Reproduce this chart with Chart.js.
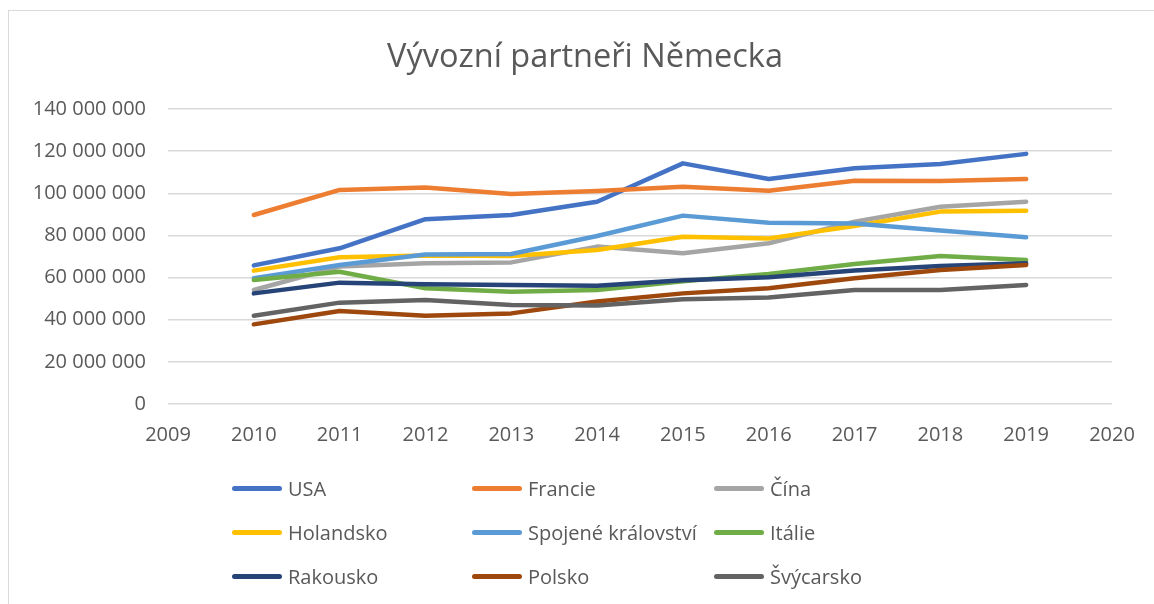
<!DOCTYPE html>
<html>
<head>
<meta charset="utf-8">
<title>Vývozní partneři Německa</title>
<script src="https://cdn.jsdelivr.net/npm/chart.js@4.4.1/dist/chart.umd.min.js"></script>
<style>
html,body{margin:0;padding:0;background:#fff;overflow:hidden}
#wrap{position:relative;width:1154px;height:604px}
#frame{position:absolute;left:8px;top:10px;width:1200px;height:700px;border-left:1px solid #d9d9d9;border-top:1px solid #d9d9d9}
#myChart{position:absolute;left:0;top:0}
#title{position:absolute;left:385px;width:400px;top:33px;text-align:center;white-space:nowrap;font-family:'Open Sans',sans-serif;font-size:32.5px;line-height:44px;color:#595959}
#legend{position:absolute;left:232px;top:466px;display:grid;grid-template-columns:240px 242px auto;grid-auto-rows:44px;font-family:'Open Sans',sans-serif;font-size:20px;color:#595959}
#legend div{display:flex;align-items:center;white-space:nowrap}
#legend span.ln{display:inline-block;width:50px;height:5px;border-radius:3px;margin-right:6px}
</style>
</head>
<body>
<div id="wrap">
<div id="frame"></div>
<canvas id="myChart" width="1154" height="604"></canvas>
<div id="title">Vývozní partneři Německa</div>
<div id="legend"></div>
</div>
<script>
// roky a hodnoty (v milionech)
var years = [2010, 2011, 2012, 2013, 2014, 2015, 2016, 2017, 2018, 2019];
var usa        = [65.8, 73.9, 87.7, 89.7, 96.0, 114.2, 106.8, 111.9, 113.9, 118.7];
var francie    = [89.7, 101.6, 102.8, 99.7, 101.1, 103.1, 101.2, 106.0, 105.8, 106.8];
var cina       = [54.1, 65.2, 66.8, 67.2, 74.7, 71.5, 76.3, 86.5, 93.6, 96.0];
var holandsko  = [63.3, 69.6, 70.5, 70.2, 73.1, 79.4, 78.6, 84.5, 91.3, 91.7];
var spojene    = [59.7, 66.0, 71.0, 71.2, 79.7, 89.4, 86.0, 85.7, 82.3, 79.1];
var italie     = [58.8, 62.8, 54.9, 53.3, 54.1, 58.3, 61.7, 66.4, 70.2, 68.3];
var rakousko   = [52.5, 57.6, 56.8, 56.5, 56.1, 58.7, 60.1, 63.3, 65.5, 66.8];
var polsko     = [37.8, 44.1, 41.9, 43.0, 48.6, 52.5, 54.9, 59.7, 63.6, 66.0];
var svycarsko  = [41.9, 48.1, 49.4, 47.0, 46.7, 49.7, 50.5, 54.1, 54.1, 56.5];
var names  = ['USA', 'Francie', 'Čína', 'Holandsko', 'Spojené království', 'Itálie', 'Rakousko', 'Polsko', 'Švýcarsko'];
var series = [usa, francie, cina, holandsko, spojene, italie, rakousko, polsko, svycarsko];
var colors = ['#4472C4', '#ED7D31', '#A5A5A5', '#FFC000', '#5B9BD5', '#70AD47', '#264478', '#9E480E', '#636363'];
var yTicks = [0, 20, 40, 60, 80, 100, 120, 140];

var MIL = 1000000;
var grey = '#595959';

function fmt(v){ return String(v).replace(/\B(?=(\d{3})+(?!\d))/g, ' '); }

var datasets = [];
for (var i = 0; i < series.length; i++)
{
	var pts = [];
	for (var j = 0; j < years.length; j++) pts.push({x: years[j], y: series[i][j] * MIL});
	datasets.push({
		label: names[i], data: pts,
		borderColor: colors[i], backgroundColor: colors[i],
		borderWidth: 4.5, pointRadius: 0, tension: 0,
		borderCapStyle: 'round', borderJoinStyle: 'round',
		order: series.length - i
	});
}

var ctx = document.getElementById('myChart');
var myChart = new Chart(ctx, {
	type: 'line',
	data: {datasets: datasets},
	options: {
		responsive: false,
		animation: false,
		layout: {padding: {left: 0, right: 42, top: 109, bottom: 150}},
		plugins: {
			legend: {display: false},
			tooltip: {enabled: false},
			title: {display: false}
		},
		scales: {
			x: {
				type: 'linear', min: 2009, max: 2020,
				grid: {display: false, drawTicks: false},
				border: {display: false},
				ticks: {stepSize: 1, color: grey, padding: 19, font: {family: 'Open Sans', size: 20},
					callback: function(v){ return String(v); }},
				afterFit: function(s){ s.height = 50; }
			},
			y: {
				min: 0, max: yTicks[yTicks.length - 1] * MIL,
				afterBuildTicks: function(s){ s.ticks = yTicks.map(function(t){ return {value: t * MIL}; }); },
				grid: {color: '#d9d9d9', lineWidth: 1.5, drawTicks: false},
				border: {display: false},
				ticks: {color: grey, padding: 22, font: {family: 'Open Sans', size: 20},
					callback: function(v){ return fmt(v); }},
				afterFit: function(s){ s.width = 168; }
			}
		}
	}
});

// legenda ve trech sloupcich
var lg = document.getElementById('legend');
myChart.data.datasets.forEach(function(d)
{
	var el = document.createElement('div');
	el.innerHTML = '<span class="ln" style="background:' + d.borderColor + '"></span>' + d.label;
	lg.appendChild(el);
});
</script>
</body>
</html>
